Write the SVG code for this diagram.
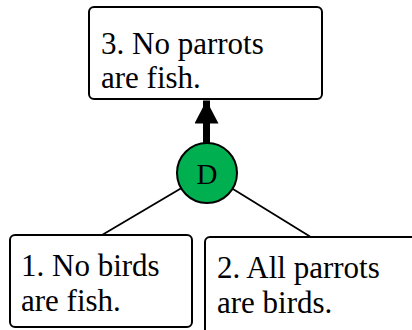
<svg xmlns="http://www.w3.org/2000/svg" width="412" height="330" viewBox="0 0 412 330">
<defs>
<style>
.box{fill:#fff;stroke:#000;stroke-width:2}
.t{font-family:"Liberation Serif","Times New Roman",serif;font-size:31px;fill:#000}
.ln{stroke:#000;stroke-width:1.8;fill:none}
</style>
<marker id="ah" markerUnits="userSpaceOnUse" markerWidth="24" markerHeight="24" viewBox="0 0 24 24" refX="23" refY="12" orient="auto">
<path d="M0,0 L23,12 L0,24 Z" fill="#000"/>
</marker>
</defs>
<g id="connectors">
<line class="ln" x1="207" y1="173" x2="102" y2="235"/>
<line class="ln" x1="207" y1="173" x2="310" y2="236.5"/>
<line x1="206.5" y1="144" x2="206.5" y2="100.5" stroke="#000" stroke-width="7" marker-end="url(#ah)"/>
</g>
<g id="node3">
<rect class="box" x="89" y="7" width="233" height="92" rx="5"/>
<text class="t" x="101" y="54">3. No parrots</text>
<text class="t" x="101" y="88">are fish.</text>
</g>
<g id="nodeD">
<circle cx="207" cy="173" r="30" fill="#00B050" stroke="#000" stroke-width="2"/>
<text x="207" y="183.5" text-anchor="middle" style="font-family:'Liberation Serif','Times New Roman',serif;font-size:29px;fill:#000">D</text>
</g>
<g id="node1">
<rect class="box" x="10" y="235" width="182" height="92" rx="5"/>
<text class="t" x="21" y="276">1. No birds</text>
<text class="t" x="21" y="311">are fish.</text>
</g>
<g id="node2">
<rect class="box" x="205" y="237" width="230" height="110" rx="5"/>
<text class="t" x="217" y="278">2. All parrots</text>
<text class="t" x="217" y="313">are birds.</text>
</g>
</svg>
